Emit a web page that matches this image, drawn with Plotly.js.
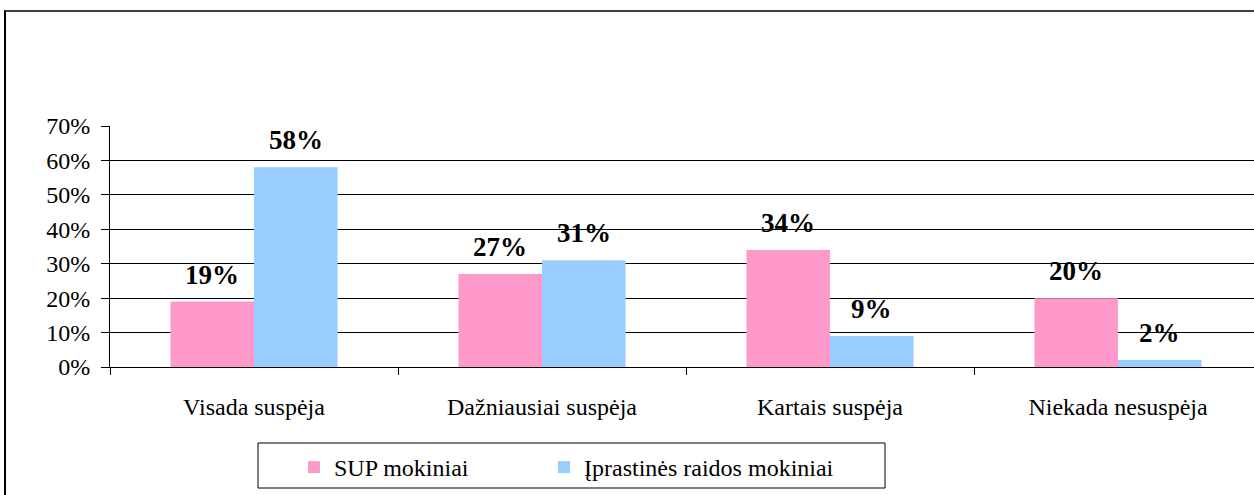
<!DOCTYPE html>
<html>
<head>
<meta charset="utf-8">
<script src="https://cdn.plot.ly/plotly-3.0.1.min.js"></script>
<style>
  html, body { margin: 0; padding: 0; overflow: hidden; background: #fff; width: 1254px; height: 495px; }
  #frame { position: absolute; left: 4px; top: 10px; width: 1400px; height: 600px;
           border-left: 2px solid #000; border-top: 2px solid #404040; }
  #chart { position: absolute; left: 0; top: 0; width: 1264px; height: 495px; }
  #chart text { font-family: 'Liberation Serif' !important; }
</style>
</head>
<body>
<div id="frame"></div>
<div id="chart"></div>
<script>
const categories = ['Visada suspėja', 'Dažniausiai suspėja', 'Kartais suspėja', 'Niekada nesuspėja'];
const supValues = [19, 27, 34, 20];
const typicalValues = [58, 31, 9, 2];
const seriesNames = ['SUP mokiniai', 'Įprastinės raidos mokiniai'];
const yTickVals = [0, 10, 20, 30, 40, 50, 60, 70];
const yTickText = ['0%', '10%', '20%', '30%', '40%', '50%', '60%', '70%'];

const FONT = 'Liberation Serif';
const W = 1264, ML = 110, MR = 2, MT = 126, MB = 128;
const bargap = 0.42;
const catWidth = (W - ML - MR) / categories.length;
const halfBar = catWidth * (1 - bargap) / 4;

const traces = [
  { type: 'bar', name: seriesNames[0], x: categories, y: supValues, legend: 'legend',
    marker: { color: '#FF99CC', line: { width: 0 } }, hoverinfo: 'none' },
  { type: 'bar', name: seriesNames[1], x: categories, y: typicalValues, legend: 'legend2',
    marker: { color: '#99CCFF', line: { width: 0 } }, hoverinfo: 'none' }
];

const annotations = [];
[supValues, typicalValues].forEach((vals, si) => {
  vals.forEach((v, i) => {
    annotations.push({
      x: categories[i], y: v, xref: 'x', yref: 'y',
      text: '<b>' + v + '%</b>', showarrow: false,
      xshift: si === 0 ? -halfBar : halfBar, yshift: 10,
      yanchor: 'bottom', xanchor: 'center',
      font: { family: FONT, size: 27, color: '#000' }
    });
  });
});

const plotH = 495 - MT - MB;
const pw = W - ML - MR;
const legendY = -(445 - (MT + plotH)) / plotH;
const legendBase = {
  orientation: 'h', xanchor: 'left', y: legendY, yanchor: 'top',
  font: { family: FONT, size: 24, color: '#000' },
  bgcolor: 'rgba(0,0,0,0)', borderwidth: 0
};
const layout = {
  width: W, height: 495,
  margin: { l: ML, r: MR, t: MT, b: MB, pad: 0 },
  paper_bgcolor: 'rgba(0,0,0,0)', plot_bgcolor: 'rgba(0,0,0,0)',
  font: { family: FONT, size: 24, color: '#000' },
  barmode: 'group', bargap: bargap, bargroupgap: 0,
  showlegend: true,
  legend: Object.assign({}, legendBase, { x: (294 - ML) / pw }),
  legend2: Object.assign({}, legendBase, { x: (544 - ML) / pw }),
  xaxis: {
    type: 'category', showgrid: false, showline: true, linecolor: '#000', linewidth: 1,
    ticks: 'outside', ticklen: 7, tickcolor: '#000', tickwidth: 1, tickson: 'boundaries',
    ticklabelstandoff: 18, tickfont: { family: FONT, size: 24, color: '#000' },
    fixedrange: true
  },
  yaxis: {
    range: [0, 70], tickvals: yTickVals, ticktext: yTickText,
    showgrid: true, gridcolor: '#000', gridwidth: 1,
    showline: true, linecolor: '#000', linewidth: 1, zeroline: false,
    ticks: 'outside', ticklen: 8, tickcolor: '#000', tickwidth: 1,
    ticklabelstandoff: 6, tickfont: { family: FONT, size: 24, color: '#000' },
    fixedrange: true
  },
  shapes: [{
    type: 'rect', xref: 'paper', yref: 'paper',
    x0: (258 - ML) / pw, x1: (885 - ML) / pw,
    y0: -(443 - (MT + plotH)) / plotH, y1: -(488 - (MT + plotH)) / plotH,
    line: { color: '#000', width: 1 }, fillcolor: 'rgba(0,0,0,0)'
  }],
  annotations: annotations
};

Plotly.newPlot('chart', traces, layout, { displayModeBar: false, staticPlot: true });
</script>
</body>
</html>
